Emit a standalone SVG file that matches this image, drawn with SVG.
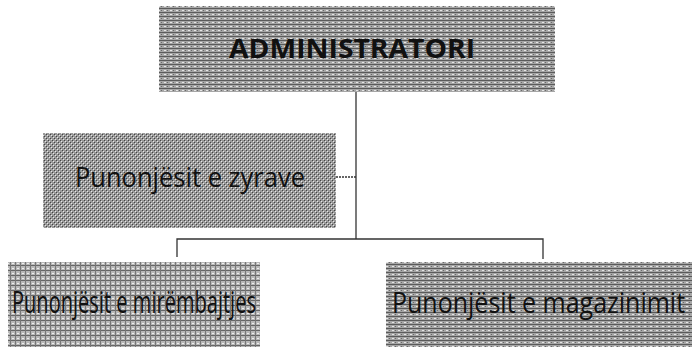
<svg xmlns="http://www.w3.org/2000/svg" width="692" height="347" viewBox="0 0 692 347">
<defs>
<pattern id="hlines" width="6" height="4" patternUnits="userSpaceOnUse">
<rect width="6" height="4" fill="#a6a6a6"/>
<rect y="0" width="6" height="1" fill="#5a5a5a"/>
<rect x="2" y="2" width="2" height="1" fill="#e6e6e6"/>
<rect x="5" y="2" width="1" height="1" fill="#6a6a6a"/>
</pattern>
<pattern id="cross" width="4" height="4" patternUnits="userSpaceOnUse">
<rect width="4" height="4" fill="#9a9a9a"/>
<rect x="0" y="0" width="1" height="1" fill="#444"/>
<rect x="2" y="2" width="1" height="1" fill="#444"/>
<rect x="1" y="1" width="1" height="1" fill="#e8e8e8"/>
<rect x="3" y="3" width="1" height="1" fill="#e8e8e8"/>
</pattern>
<pattern id="grid" width="5" height="5" patternUnits="userSpaceOnUse">
<rect width="5" height="5" fill="#b8b8b8"/>
<rect width="5" height="1" fill="#666"/>
<rect width="1" height="5" fill="#777"/>
<rect x="2" y="3" width="2" height="1" fill="#eee"/>
</pattern>
<style>
.lbl{font-family:"Open Sans","Liberation Sans",sans-serif;fill:#111;}
.conn{stroke:#333;stroke-width:1.3;fill:none;}
</style>
</defs>
<g id="connectors">
<line class="conn" x1="356" y1="92" x2="356" y2="239"/>
<line class="conn" x1="336" y1="177" x2="356" y2="177" stroke-dasharray="2,1"/>
<polyline class="conn" points="177,257 177,239 543,239 543,259"/>
</g>
<g id="admin">
<rect x="159" y="6" width="396" height="86" fill="url(#hlines)"/>
<text class="lbl" x="352" y="58" text-anchor="middle" font-size="27" font-weight="bold" textLength="246" lengthAdjust="spacingAndGlyphs">ADMINISTRATORI</text>
</g>
<g id="zyrave">
<rect x="43" y="133" width="293" height="95" fill="url(#cross)"/>
<text class="lbl" x="190" y="187" text-anchor="middle" font-size="28" textLength="230" lengthAdjust="spacingAndGlyphs">Punonjësit e zyrave</text>
</g>
<g id="mirembajtjes">
<rect x="8" y="262" width="252" height="85" fill="url(#grid)"/>
<text class="lbl" x="134" y="313" text-anchor="middle" font-size="31" textLength="244" lengthAdjust="spacingAndGlyphs">Punonjësit e mirëmbajtjes</text>
</g>
<g id="magazinimit">
<rect x="386" y="262" width="306" height="85" fill="url(#hlines)"/>
<text class="lbl" transform="translate(392,313) scale(1,1.2)" x="0" y="0" font-size="25">Punonjësit e magazinimit</text>
</g>
</svg>
